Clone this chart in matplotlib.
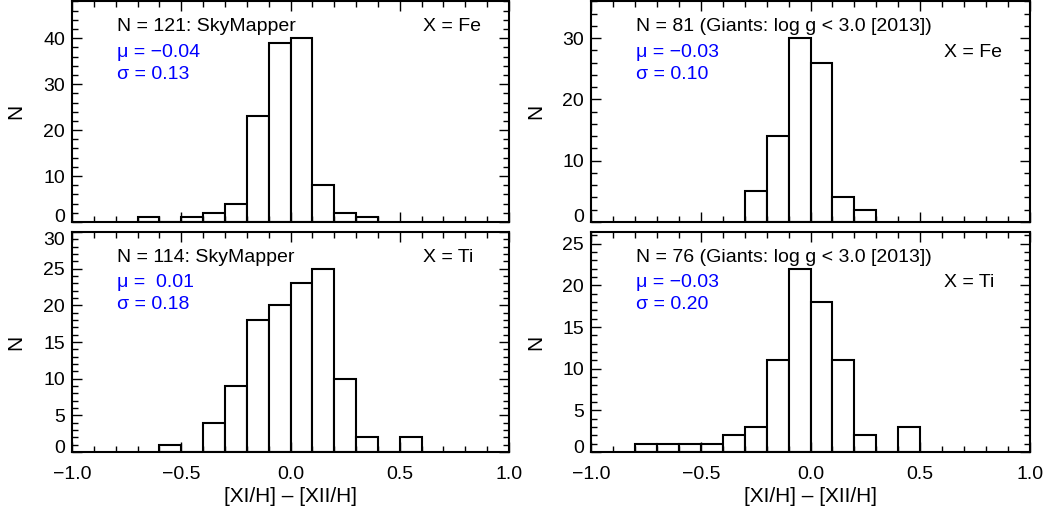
import numpy as np
import matplotlib
matplotlib.use("Agg")
import matplotlib.pyplot as plt
from matplotlib.ticker import MultipleLocator
from matplotlib.transforms import ScaledTranslation

plt.rcParams['font.family'] = ['Liberation Sans', 'DejaVu Sans']
plt.rcParams['axes.unicode_minus'] = True

#------- valeurs -------
fe_sky_bins   = [-0.7, -0.6, -0.5, -0.4, -0.3, -0.2, -0.1, 0.0, 0.1, 0.2, 0.3]
fe_sky_counts = [1, 0, 1, 2, 4, 23, 39, 40, 8, 2, 1]

fe_giant_bins   = [-0.3, -0.2, -0.1, 0.0, 0.1, 0.2]
fe_giant_counts = [5, 14, 30, 26, 4, 2]

ti_sky_bins   = [-0.6, -0.5, -0.4, -0.3, -0.2, -0.1, 0.0, 0.1, 0.2, 0.3, 0.4, 0.5]
ti_sky_counts = [1, 0, 4, 9, 18, 20, 23, 25, 10, 2, 0, 2]

ti_giant_bins   = [-0.8, -0.7, -0.6, -0.5, -0.4, -0.3, -0.2, -0.1, 0.0, 0.1, 0.2, 0.3, 0.4]
ti_giant_counts = [1, 1, 1, 1, 2, 3, 11, 22, 18, 11, 2, 0, 3]

titles  = ["N = 121: SkyMapper", "N = 81 (Giants: log g < 3.0 [2013])",
           "N = 114: SkyMapper", "N = 76 (Giants: log g < 3.0 [2013])"]
elems   = ["X = Fe", "X = Fe", "X = Ti", "X = Ti"]
mus     = ["\u22120.04", "\u22120.03", " 0.01", "\u22120.03"]
sigmas  = ["0.13", "0.10", "0.18", "0.20"]
#------------------------------------------

panels = [(fe_sky_bins, fe_sky_counts), (fe_giant_bins, fe_giant_counts),
          (ti_sky_bins, ti_sky_counts), (ti_giant_bins, ti_giant_counts)]

# positions des axes (fractions de la figure)
pos = [[0.0681, 0.5673, 0.413, 0.4298],
       [0.5586, 0.5673, 0.415, 0.4298],
       [0.0681, 0.1189, 0.413, 0.4288],
       [0.5586, 0.1189, 0.415, 0.4288]]

ymaj = [10, 10, 5, 5]
ymin_ = [2, 2, 1, 1]

fs_tick = 14
fs_txt = 14
fs_lab = 15

fig = plt.figure(figsize=(10.58, 5.13), dpi=100)

for i in range(4):
    ax = fig.add_axes(pos[i])
    bins, counts = panels[i]
    ax.bar(bins, counts, width=0.1, align='edge', facecolor='white',
           edgecolor='black', linewidth=1.5)
    ax.set_xlim(-1.0, 1.0)
    ax.set_ylim(0, 1.2*max(counts))

    ax.xaxis.set_major_locator(MultipleLocator(0.5))
    ax.xaxis.set_minor_locator(MultipleLocator(0.1))
    ax.yaxis.set_major_locator(MultipleLocator(ymaj[i]))
    ax.yaxis.set_minor_locator(MultipleLocator(ymin_[i]))
    ax.tick_params(which='both', direction='in', top=True, right=True, width=1.0)
    ax.tick_params(which='major', length=7)
    ax.tick_params(which='minor', length=4)
    ax.tick_params(axis='y', labelsize=fs_tick, pad=5)
    ax.tick_params(axis='x', labelsize=fs_tick, pad=10)
    for s in ax.spines.values():
        s.set_linewidth(1.5)

    if i < 2:
        ax.tick_params(axis='x', labelbottom=False)
    else:
        ax.set_xlabel("[XI/H] \u2013 [XII/H]", fontsize=fs_lab, labelpad=3)

    ax.set_ylabel("N", fontsize=fs_lab, labelpad=13 if i % 2 == 0 else 12)

    ax.text(0.103, 0.865, titles[i], transform=ax.transAxes, fontsize=fs_txt)
    ax.text(0.103, 0.748, "\u03bc = " + mus[i], transform=ax.transAxes,
            fontsize=fs_txt, color='blue')
    ax.text(0.103, 0.65, "\u03c3 = " + sigmas[i], transform=ax.transAxes,
            fontsize=fs_txt, color='blue')
    ax.text(0.803, 0.865 if i % 2 == 0 else 0.748, elems[i],
            transform=ax.transAxes, fontsize=fs_txt)

    # décalage des étiquettes extrêmes (comme IDL)
    fig.canvas.draw()
    ylo, yhi = ax.get_ylim()
    for t, lab in zip(ax.get_yticks(), ax.get_yticklabels()):
        if abs(t - ylo) < 1e-9:
            lab.set_transform(lab.get_transform() + ScaledTranslation(0, 6/100, fig.dpi_scale_trans))
        elif abs(t - yhi) < 0.5:
            lab.set_transform(lab.get_transform() + ScaledTranslation(0, -6/100, fig.dpi_scale_trans))

fig.savefig("out.png", dpi=100)
